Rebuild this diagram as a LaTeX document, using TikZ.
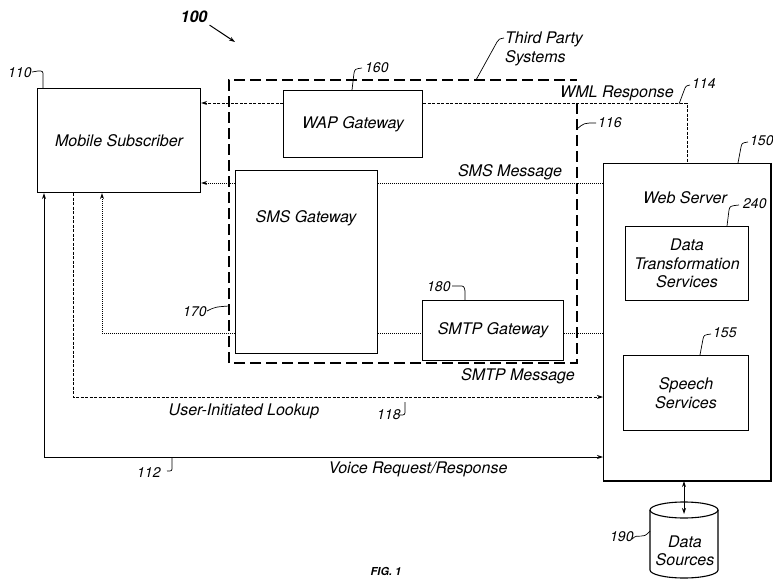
\documentclass[tikz,border=0pt]{standalone}
\usepackage{fontspec}
\setmainfont{TeX Gyre Heros}
\usetikzlibrary{arrows.meta,calc}
\begin{document}
\begin{tikzpicture}[x=1pt,y=-1pt,
 box/.style={draw, line width=1.1pt, anchor=north west, inner sep=0pt, align=center,
   font=\fontsize{16}{18.5}\selectfont\itshape},
 lbl/.style={font=\fontsize{16}{18.5}\selectfont\itshape, inner sep=0pt, align=center},
 num/.style={font=\fontsize{14}{16}\selectfont\itshape, inner sep=0pt},
 arr/.style={-{Stealth[length=6pt,width=4pt]}},
 darr/.style={{Stealth[length=6pt,width=4pt]}-{Stealth[length=6pt,width=4pt]}},
 tp/.style={line width=1.7pt, dash pattern=on 11pt off 5pt},
 wml/.style={line width=0.9pt, dash pattern=on 3pt off 1.5pt},
 dotl/.style={line width=0.9pt, dash pattern=on 1pt off 1pt},
 lk/.style={line width=0.9pt, dash pattern=on 3pt off 1.5pt},
 lead/.style={line width=0.7pt}]
\useasboundingbox (0,0) rectangle (773,580);

% boxes
\node[box, minimum width=163pt, minimum height=104pt] (ms) at (37,88) {Mobile Subscriber};
\node[box, minimum width=139pt, minimum height=67pt] (wap) at (283,90) {WAP Gateway};
\node[box, minimum width=142pt, minimum height=183pt] (smsg) at (235,170) {};
\node[lbl] (smsgl) at (306,218) {SMS Gateway};
\node[box, minimum width=141pt, minimum height=60pt] (smtp) at (422,300) {SMTP Gateway};
\node[box, minimum width=167pt, minimum height=317pt] (web) at (603,163) {};
\draw[line width=2.6pt] (web.north east) -- (web.south east) -- (web.south west);
\node[lbl] (webl) at (685,198) {Web Server};
\node[box, minimum width=123pt, minimum height=74pt] (dts) at (625,226) {Data\\Transformation\\Services};
\node[box, minimum width=125pt, minimum height=75pt] (sp) at (623,355) {Speech\\Services};

% third party systems dashed region
\coordinate (tpa) at (577,103);
\coordinate (tpb) at (577,363);
\coordinate (tpc) at (229,363);
\coordinate (tpd) at (229,80);
\coordinate (tpe) at (577,80);
\draw[tp] (tpa) -- (tpb) -- (tpc) -- (tpd) -- (tpe);

% data sources cylinder
\draw[line width=1.1pt] (650,510) -- (650,570) arc[start angle=180,end angle=360,x radius=34pt,y radius=8pt] -- (718,510);
\draw[line width=1.1pt] (684,510) ellipse [x radius=34pt, y radius=8pt];
\node[lbl] (dsl) at (685,551) {Data\\Sources};
\coordinate (ds) at (684,514);
\draw[darr, line width=0.8pt] (ds |- web.south) -- (ds);

% connectors
\coordinate (wmlc) at (687,103);
\draw[wml,arr] (wap.west |- wmlc) -- (ms.east |- wmlc);
\draw[wml] (wap.east |- wmlc) -- (wmlc) -- (wmlc |- web.north);

\coordinate (smsy) at (0,183);
\draw[dotl] (web.west |- smsy) -- (smsg.east |- smsy);
\draw[dotl,arr] (smsg.west |- smsy) -- (ms.east |- smsy);

\coordinate (c1) at (102,333);
\draw[dotl,arr] (smsg.west |- c1) -- (c1) -- (c1 |- ms.south);
\draw[dotl] (smsg.east |- c1) -- (smtp.west |- c1);
\draw[dotl] (smtp.east |- c1) -- (web.west |- c1);

\coordinate (c2) at (73,397);
\draw[lk,arr] (c2 |- ms.south) -- (c2) -- (web.west |- c2);

\coordinate (c3) at (44,457);
\draw[darr, line width=0.9pt] (c3 |- ms.south) -- (c3) -- (web.west |- c3);

% labels
\node[lbl] (l100) at (194,17) {\bfseries 100};
\coordinate (a100) at (235,42);
\draw[arr, line width=1pt] (l100.south east) ++(2,2) -- (a100);

\node[lbl, align=left, anchor=west] (tpl) at (505,49) {Third Party\\Systems};
\draw[lead] (476,80) -- (497,42) .. controls (499,39) .. (504,38);

\node[lbl] (wmll) at (617,93) {WML Response};
\node[num, anchor=west] (n114) at (692,84) {114};
\draw[lead] (679,104) -- (685,88) .. controls (686,86) .. (690,85);

\node[lbl] (smsl) at (510,172) {SMS Message};
\node[lbl] (smtpl) at (518,376) {SMTP Message};
\node[lbl] (lkl) at (244,411) {User-Initiated Lookup};
\node[lbl] (vl) at (418,469) {Voice Request/Response};

\node[num, anchor=west] (n110) at (8,73) {110};
\draw[lead] (32,72) -- (38,71) .. controls (43,71) .. (43,76) -- (43,88);

\node[num, anchor=west] (n160) at (365,68) {160};
\draw[lead] (352,90) -- (354,73) .. controls (355,69) .. (362,68);

\node[num, anchor=west] (n116) at (598,123) {116};
\draw[lead] (577,129) .. controls (584,123) .. (596,123);

\node[num, anchor=west] (n150) at (750,141) {150};
\draw[lead] (738,163) -- (741,147) .. controls (742,143) .. (748,142);

\node[num, anchor=west] (n240) at (743,204) {240};
\draw[lead] (727,226) -- (729,210) .. controls (730,206) .. (739,205);

\node[num, anchor=west] (n180) at (427,287) {180};
\draw[lead] (452,286) -- (459,286) .. controls (464,286) .. (465,291) -- (465,300);

\node[num, anchor=west] (n155) at (713,333) {155};
\draw[lead] (700,355) -- (703,339) .. controls (704,335) .. (711,334);

\node[num, anchor=west] (n170) at (183,312) {170};
\draw[lead] (207,311) .. controls (215,307) .. (229,306);

\node[num, anchor=west] (n118) at (377,415) {118};
\draw[lead] (405,402) -- (405,410) .. controls (405,415) .. (400,415);

\node[num, anchor=west] (n112) at (137,473) {112};
\draw[lead] (172,457) -- (172,467) .. controls (172,471) .. (167,471);

\node[num, anchor=west] (n190) at (610,537) {190};
\draw[lead] (632,539) .. controls (639,532) and (642,541) .. (650,531);

\node[lbl] (fig) at (386,571) {\bfseries\fontsize{11}{13}\selectfont FIG. 1};
\end{tikzpicture}
\end{document}
